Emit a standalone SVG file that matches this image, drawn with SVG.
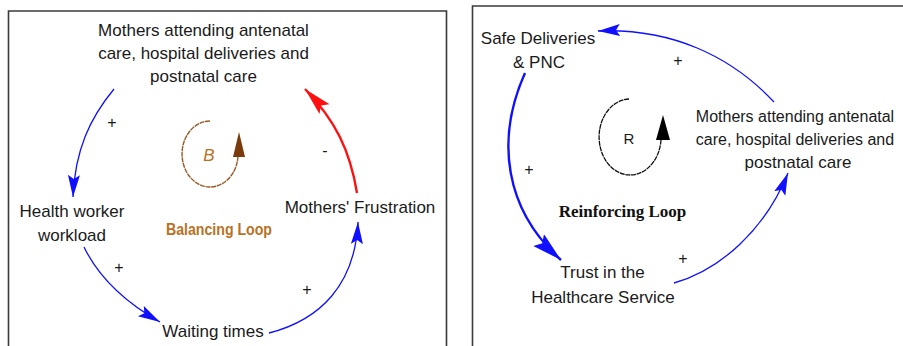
<svg xmlns="http://www.w3.org/2000/svg" width="903" height="346" viewBox="0 0 903 346">
  <style>
    .frame { fill: none; stroke: #3a3a3a; stroke-width: 1.6; }
    .lbl { font-family: "Liberation Sans", Arial, sans-serif; font-size: 17px; fill: #1a1a1a; text-anchor: middle; }
    .lbl.fit { font-size: 16px; }
    .sign { font-family: "Liberation Sans", Arial, sans-serif; font-size: 16px; fill: #1a1a1a; text-anchor: middle; }
    .link { fill: none; stroke: #1010ff; stroke-width: 1.3; }
    .link.thick { stroke-width: 2.4; }
    .link.neg { stroke: #ff1010; stroke-width: 2.4; }
  </style>
  <defs>
    <marker id="arrowBlue" markerUnits="userSpaceOnUse" markerWidth="24" markerHeight="14" refX="22" refY="6" orient="auto">
      <path d="M0,0 L22,6 L0,12 L4,6 z" fill="#1010ff"/>
    </marker>
    <marker id="arrowBlueBig" markerUnits="userSpaceOnUse" markerWidth="32" markerHeight="18" refX="30" refY="8" orient="auto">
      <path d="M0,0 L30,8 L0,16 L5,8 z" fill="#1010ff"/>
    </marker>
    <marker id="arrowRed" markerUnits="userSpaceOnUse" markerWidth="30" markerHeight="16" refX="28" refY="7" orient="auto">
      <path d="M0,0 L28,7 L0,14 L5,7 z" fill="#ff1010"/>
    </marker>
  </defs>

  <rect width="903" height="346" fill="#ffffff"/>

  <!-- panel frames (bottom and far right edges run off the canvas) -->
  <path class="frame" d="M8.5,350 L8.5,11 L446.5,11 L446.5,350"/>
  <path class="frame" d="M472.5,350 L472.5,6 L905,6"/>

  <!-- balancing loop connectors -->
  <g id="connectors-balancing">
    <path class="link" d="M114,89 C90,118 75,150 73,197" marker-end="url(#arrowBlue)"/>
    <path class="link" d="M84,247 C100,280 130,305 160,322" marker-end="url(#arrowBlue)"/>
    <path class="link" d="M269,333 C320,320 355,285 358,222" marker-end="url(#arrowBlue)"/>
    <path class="link neg" d="M357,193 C350,150 335,120 305,89" marker-end="url(#arrowRed)"/>
    <text class="sign" x="112" y="128">+</text>
    <text class="sign" x="119" y="273">+</text>
    <text class="sign" x="307" y="295">+</text>
    <text class="sign" x="325" y="156">-</text>
  </g>

  <!-- balancing loop nodes -->
  <g id="node-attending-left">
    <text class="lbl" x="203.5" y="36">Mothers attending antenatal</text>
    <text class="lbl" x="203.5" y="59">care, hospital deliveries and</text>
    <text class="lbl" x="203.5" y="82">postnatal care</text>
  </g>
  <g id="node-workload">
    <text class="lbl" x="72" y="217">Health worker</text>
    <text class="lbl" x="72" y="241">workload</text>
  </g>
  <g id="node-waiting">
    <text class="lbl" x="213" y="337">Waiting times</text>
  </g>
  <g id="node-frustration">
    <text class="lbl" x="360" y="213">Mothers' Frustration</text>
  </g>
  <g id="loop-b">
    <path d="M210,121 A28,33 0 1 0 238,156" fill="none" stroke="#9a5a25" stroke-width="1.4" stroke-dasharray="5 0.7"/>
    <path d="M239,132 L245,157 L233,157 z" fill="#7a3b0c"/>
    <text x="209" y="161" font-family="Liberation Sans, Arial, sans-serif" font-size="17" font-style="italic" fill="#b8721f" text-anchor="middle">B</text>
    <text x="219" y="235" font-family="Liberation Sans, Arial, sans-serif" font-size="16" font-weight="bold" fill="#b8721f" text-anchor="middle" textLength="106" lengthAdjust="spacingAndGlyphs">Balancing Loop</text>
  </g>

  <!-- reinforcing loop connectors -->
  <g id="connectors-reinforcing">
    <path class="link" d="M774,102 C730,55 670,28 598,31" marker-end="url(#arrowBlue)"/>
    <path class="link thick" d="M525,73 C495,140 505,210 561,260" marker-end="url(#arrowBlueBig)"/>
    <path class="link" d="M674,283 C720,270 765,230 788,173" marker-end="url(#arrowBlue)"/>
    <text class="sign" x="678" y="66">+</text>
    <text class="sign" x="529" y="175">+</text>
    <text class="sign" x="683" y="264">+</text>
  </g>

  <!-- reinforcing loop nodes -->
  <g id="node-safe">
    <text class="lbl" x="538" y="44">Safe Deliveries</text>
    <text class="lbl" x="539" y="68">&amp; PNC</text>
  </g>
  <g id="node-attending-right">
    <text class="lbl fit" x="795" y="122">Mothers attending antenatal</text>
    <text class="lbl fit" x="795" y="145">care, hospital deliveries and</text>
    <text class="lbl" x="798" y="168">postnatal care</text>
  </g>
  <g id="node-trust">
    <text class="lbl" x="602.5" y="278">Trust in the</text>
    <text class="lbl" x="603" y="303">Healthcare Service</text>
  </g>
  <g id="loop-r">
    <path d="M629,99 A31,38 0 1 0 661,140" fill="none" stroke="#111111" stroke-width="1.3" stroke-dasharray="5 0.7"/>
    <path d="M663,115 L670,140 L656,140 z" fill="#000000"/>
    <text x="629" y="144" font-family="Liberation Sans, Arial, sans-serif" font-size="15" fill="#1a1a1a" text-anchor="middle">R</text>
    <text x="622.5" y="217" font-family="Liberation Serif, 'Times New Roman', serif" font-size="17" font-weight="bold" fill="#111111" text-anchor="middle">Reinforcing Loop</text>
  </g>
</svg>
